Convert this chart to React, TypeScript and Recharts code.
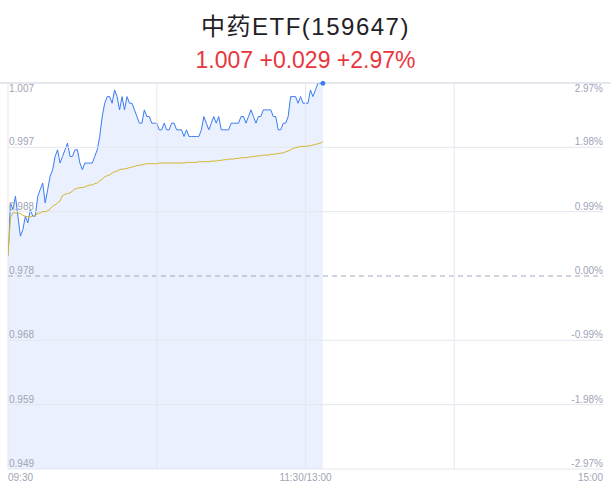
import React from 'react';
import { Area, ComposedChart, Line, ReferenceDot, ReferenceLine, XAxis, YAxis } from 'recharts';

const title = '中药ETF(159647)';
const quoteText = '1.007 +0.029 +2.97%';
const preClose = 0.978;

// minute prices from 09:30, one per minute
const prices: number[] = [
  0.981, 0.989, 0.988, 0.99, 0.987, 0.984, 0.985, 0.987, 0.986, 0.988,
  0.987, 0.987, 0.99, 0.991, 0.992, 0.989, 0.991, 0.993, 0.994, 0.996,
  0.997, 0.995, 0.996, 0.997, 0.998, 0.996, 0.996, 0.997, 0.997, 0.995,
  0.994, 0.995, 0.995, 0.995, 0.995, 0.996, 0.997, 0.999, 1.002, 1.004,
  1.005, 1.005, 1.004, 1.006, 1.005, 1.003, 1.005, 1.003, 1.005, 1.004,
  1.004, 1.003, 1.002, 1.001, 1.001, 1.003, 1.002, 1.002, 1.001, 1.001,
  1.001, 1.0, 1.0, 1.001, 1.0, 1.0, 1.001, 1.001, 1.0, 1.0,
  1.0, 0.999, 1.0, 0.999, 0.999, 0.999, 0.999, 0.999, 1.0, 1.002,
  1.001, 1.0, 1.001, 1.002, 1.001, 1.002, 1.0, 1.0, 1.0, 1.0,
  1.001, 1.001, 1.001, 1.001, 1.002, 1.002, 1.001, 1.002, 1.003, 1.002,
  1.001, 1.002, 1.002, 1.003, 1.003, 1.003, 1.003, 1.002, 1.002, 1.0,
  1.0, 1.001, 1.001, 1.002, 1.005, 1.005, 1.005, 1.004, 1.005, 1.004,
  1.004, 1.004, 1.006, 1.005, 1.006, 1.007, 1.007, 1.007,
];

// running average price
const avgPrices: number[] = [
  0.981, 0.9868, 0.9875, 0.9875, 0.9875, 0.9874, 0.9871, 0.987, 0.9869, 0.9869,
  0.987, 0.9871, 0.9874, 0.9875, 0.9877, 0.9877, 0.9878, 0.9881, 0.9885, 0.9887,
  0.989, 0.9893, 0.9901, 0.9903, 0.9904, 0.9905, 0.9908, 0.9911, 0.9912, 0.9913,
  0.9913, 0.9914, 0.9916, 0.9917, 0.9917, 0.9919, 0.992, 0.9923, 0.9926, 0.9929,
  0.9931, 0.9932, 0.9935, 0.9937, 0.9938, 0.994, 0.9941, 0.9941, 0.9942, 0.9943,
  0.9944, 0.9945, 0.9946, 0.9947, 0.9947, 0.9948, 0.9949, 0.9949, 0.9949, 0.9949,
  0.9949, 0.995, 0.995, 0.995, 0.995, 0.995, 0.995, 0.995, 0.995, 0.995,
  0.995, 0.995, 0.9951, 0.9951, 0.9951, 0.9951, 0.9951, 0.9952, 0.9952, 0.9952,
  0.9952, 0.9952, 0.9953, 0.9953, 0.9953, 0.9954, 0.9954, 0.9955, 0.9955, 0.9956,
  0.9956, 0.9956, 0.9957, 0.9957, 0.9958, 0.9958, 0.9958, 0.9959, 0.9959, 0.996,
  0.996, 0.9961, 0.9961, 0.9962, 0.9962, 0.9962, 0.9963, 0.9963, 0.9964, 0.9964,
  0.9965, 0.9965, 0.9967, 0.9968, 0.997, 0.9972, 0.9973, 0.9974, 0.9975, 0.9975,
  0.9975, 0.9976, 0.9976, 0.9977, 0.9978, 0.9979, 0.998, 0.9982,
];

const pctTicks = [2.97, 1.98, 0.99, 0, -0.99, -1.98, -2.97];
const timeTicks = [0, 120, 240];
const timeLabels = ['09:30', '11:30/13:00', '15:00'];
const gridMinutes = [0, 60, 120, 180];

const priceTicks = pctTicks.map((p) => preClose * (1 + p / 100));
const hi = priceTicks[0];
const lo = priceTicks[priceTicks.length - 1];

const rows = prices.map((price, t) => ({ t, price, avg: avgPrices[t] }));
const last = rows[rows.length - 1];

const labelColor = '#a0a4b5';
const gridColor = '#e4e7ef';
const font = '"Liberation Sans", "Noto Sans CJK SC", sans-serif';

const PriceTick = (props: any) => {
  const { y, payload } = props;
  const top = Math.abs(payload.value - hi) < 1e-9;
  return (
    <text x={9} y={top ? y + 9 : y - 2} fill={labelColor} fontSize={10} fontFamily={font} textAnchor="start">
      {payload.value.toFixed(3)}
    </text>
  );
};

const PctTick = (props: any) => {
  const { y, payload } = props;
  const top = payload.value === pctTicks[0];
  return (
    <text x={603} y={top ? y + 9 : y - 2} fill={labelColor} fontSize={10} fontFamily={font} textAnchor="end">
      {payload.value.toFixed(2)}%
    </text>
  );
};

const TimeTick = (props: any) => {
  const { x, y, payload } = props;
  const i = timeTicks.indexOf(payload.value);
  const anchor = i === 0 ? 'start' : i === timeTicks.length - 1 ? 'end' : 'middle';
  return (
    <text x={x} y={y + 12} fill={labelColor} fontSize={10} fontFamily={font} textAnchor={anchor}>
      {timeLabels[i]}
    </text>
  );
};

const App: React.FC = () => {
  return (
    <div style={{ position: 'absolute', left: 0, top: 0, width: 611, height: 492, background: '#fff', overflow: 'hidden' }}>
      <div style={{ position: 'absolute', left: 0, top: 82, width: 611, height: 2, background: '#e6e7ec' }} />
      <ComposedChart
        width={611}
        height={492}
        data={rows}
        margin={{ top: 83, right: 7, bottom: 0, left: 7 }}
        style={{ position: 'absolute', left: 0, top: 0 }}
      >
        <XAxis
          type="number"
          dataKey="t"
          domain={[0, 240]}
          ticks={timeTicks}
          tick={<TimeTick />}
          axisLine={false}
          tickLine={false}
          tickSize={0}
          tickMargin={0}
          height={23}
          interval={0}
          allowDataOverflow
        />
        <YAxis
          yAxisId="p"
          type="number"
          domain={[lo, hi]}
          ticks={priceTicks}
          tick={<PriceTick />}
          axisLine={false}
          tickLine={false}
          tickSize={0}
          tickMargin={0}
          width={1}
          interval={0}
          allowDataOverflow
        />
        <YAxis
          yAxisId="r"
          orientation="right"
          type="number"
          domain={[pctTicks[pctTicks.length - 1], pctTicks[0]]}
          ticks={pctTicks}
          tick={<PctTick />}
          axisLine={false}
          tickLine={false}
          tickSize={0}
          tickMargin={0}
          width={1}
          interval={0}
          allowDataOverflow
        />
        {priceTicks.map((v, i) => (
          <ReferenceLine
            key={`h-${i}`}
            yAxisId="p"
            y={v}
            stroke={i === 3 ? '#a3a7bb' : gridColor}
            strokeDasharray={i === 3 ? '5 4' : undefined}
          />
        ))}
        {gridMinutes.map((m) => (
          <ReferenceLine key={`v-${m}`} yAxisId="p" x={m} stroke={gridColor} />
        ))}
        <Area
          yAxisId="p"
          type="linear"
          dataKey="price"
          stroke="#3b7cf2"
          strokeWidth={1}
          fill="#2f6fe8"
          fillOpacity={0.1}
          dot={false}
          activeDot={false}
          isAnimationActive={false}
        />
        <Line
          yAxisId="p"
          type="linear"
          dataKey="avg"
          stroke="#d5b52c"
          strokeWidth={1}
          dot={false}
          activeDot={false}
          isAnimationActive={false}
        />
        <ReferenceDot
          yAxisId="p"
          x={last.t}
          y={last.price}
          r={2}
          fill="#3b7cf2"
          fillOpacity={1}
          stroke="#3b7cf2"
          strokeWidth={1}
          ifOverflow="visible"
        />
      </ComposedChart>
      <div
        style={{
          position: 'absolute',
          left: 0,
          top: 12,
          width: 611,
          textAlign: 'center',
          fontFamily: font,
          fontSize: 24,
          lineHeight: '30px',
          letterSpacing: 1.5,
          color: '#1f2126',
        }}
      >
        {title}
      </div>
      <div
        style={{
          position: 'absolute',
          left: 0,
          top: 46,
          width: 611,
          textAlign: 'center',
          fontFamily: font,
          fontSize: 23,
          lineHeight: '28px',
          color: '#e8363d',
        }}
      >
        {quoteText}
      </div>
    </div>
  );
};

export default App;
